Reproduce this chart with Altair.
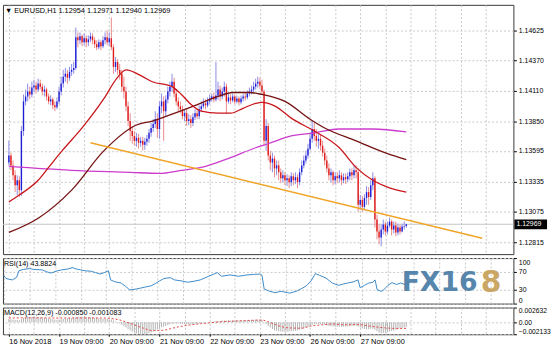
import altair as alt
import pandas as pd

# ---------------- data (prices in points, 1 point = 0.00001) ----------------
first_open = 113497
close_pts = [
    113556, 113472, 113388, 113303, 113345, 113261, 113766, 114019, 114061, 114103,
    114078, 114137, 114154, 114120, 114171, 114145, 114103, 114120, 114061, 114019,
    114036, 113985, 113968, 114019, 114103, 114171, 114230, 114255, 114221, 114272,
    114288, 114305, 114566, 114541, 114575, 114524, 114558, 114524, 114549, 114575,
    114541, 114507, 114482, 114524, 114491, 114541, 114566, 114524, 114558, 114482,
    114314, 114356, 114288, 114255, 114145, 114103, 113977, 113851, 113766, 113724,
    113682, 113708, 113665, 113682, 113648, 113674, 113699, 113750, 113792, 113825,
    113867, 113783, 113977, 114019, 113935, 114036, 114103, 114145, 114187, 114086,
    114019, 113977, 113952, 113893, 113918, 113851, 113867, 113834, 113884, 113918,
    113893, 113952, 113977, 114002, 113985, 114019, 114044, 114061, 114036, 114070,
    114120, 114061, 114103, 114145, 114019, 114053, 114027, 114061, 114019, 114044,
    114011, 114044, 114061, 114053, 114086, 114103, 114120, 114145, 114171, 114187,
    114154, 114103, 113682, 113808, 113556, 113497, 113531, 113446, 113472, 113413,
    113362, 113388, 113345, 113362, 113329, 113379, 113345, 113371, 113329, 113413,
    113472, 113514, 113556, 113615, 113699, 113783, 113724, 113682, 113699, 113640,
    113581, 113514, 113446, 113388, 113413, 113345, 113379, 113362, 113388, 113345,
    113371, 113354, 113379, 113413, 113388, 113430, 113413, 113135, 113177, 113118,
    113194, 113244, 113202, 113303, 113362, 113009, 112907, 112857, 112924, 112967,
    112907, 112958, 112992, 112924, 112958, 112899, 112941, 112907, 112950, 112954,
    112969,
]
high_pts = [
    113682, 113581, 113514, 113430, 113388, 113379, 113808, 114078, 114120, 114171,
    114145, 114187, 114204, 114187, 114213, 114204, 114171, 114154, 114137, 114086,
    114070, 114053, 114019, 114053, 114145, 114230, 114288, 114305, 114288, 114314,
    114339, 114356, 114650, 114608, 114608, 114592, 114600, 114583, 114583, 114608,
    114600, 114566, 114541, 114549, 114541, 114575, 114608, 114625, 114608, 114735,
    114507, 114398, 114381, 114339, 114288, 114230, 114145, 114019, 113918, 113808,
    113766, 113750, 113741, 113716, 113716, 113708, 113733, 113783, 113834, 113867,
    113935, 113918, 114019, 114086, 114061, 114070, 114145, 114187, 114255, 114221,
    114120, 114053, 114019, 113985, 113952, 113952, 113910, 113901, 113918, 113952,
    113952, 113985, 114019, 114044, 114036, 114053, 114078, 114086, 114095, 114356,
    114187, 114154, 114137, 114187, 114171, 114086, 114078, 114086, 114078, 114070,
    114061, 114070, 114086, 114095, 114112, 114137, 114154, 114187, 114213, 114230,
    114221, 114204, 114120, 113867, 113834, 113598, 113581, 113556, 113514, 113514,
    113446, 113430, 113413, 113396, 113388, 113413, 113404, 113413, 113396, 113446,
    113514, 113556, 113598, 113657, 113741, 113851, 113834, 113783, 113741, 113733,
    113682, 113615, 113556, 113489, 113446, 113430, 113413, 113413, 113430, 113413,
    113404, 113404, 113413, 113446, 113446, 113472, 113472, 113446, 113219, 113211,
    113226, 113295, 113286, 113345, 113413, 113379, 113051, 112967, 112967, 113009,
    112992, 112992, 113025, 113009, 112992, 112992, 112975, 112967, 112975, 112992,
    112971,
]
low_pts = [
    113472, 113430, 113345, 113244, 113219, 113202, 113211, 113724, 113985, 114019,
    114036, 114053, 114103, 114086, 114103, 114120, 114070, 114061, 114027, 113994,
    113985, 113952, 113935, 113952, 113994, 114070, 114137, 114187, 114171, 114196,
    114238, 114255, 114288, 114482, 114507, 114491, 114499, 114482, 114491, 114524,
    114507, 114474, 114457, 114465, 114457, 114474, 114507, 114499, 114491, 114457,
    114255, 114272, 114246, 114204, 114103, 114044, 113935, 113808, 113682, 113657,
    113640, 113632, 113615, 113632, 113598, 113606, 113640, 113665, 113716, 113758,
    113792, 113708, 113699, 113918, 113682, 113893, 114002, 114061, 114103, 114053,
    113985, 113935, 113918, 113867, 113851, 113808, 113817, 113792, 113808, 113859,
    113867, 113867, 113926, 113960, 113952, 113968, 113994, 114019, 114011, 114019,
    114036, 114019, 114036, 114061, 113910, 114002, 113994, 114011, 113994, 114002,
    113985, 113994, 114019, 114027, 114036, 114061, 114078, 114095, 114120, 114137,
    114128, 114078, 113640, 113598, 113514, 113430, 113413, 113371, 113388, 113345,
    113320, 113329, 113303, 113295, 113278, 113295, 113303, 113312, 113278, 113303,
    113388, 113446, 113489, 113531, 113598, 113665, 113682, 113632, 113615, 113598,
    113548, 113472, 113413, 113345, 113329, 113303, 113312, 113320, 113329, 113303,
    113320, 113312, 113329, 113345, 113345, 113362, 113362, 113076, 113093, 113076,
    113093, 113135, 113135, 113177, 113261, 112941, 112840, 112798, 112781, 112882,
    112874, 112882, 112941, 112874, 112891, 112865, 112874, 112882, 112899, 112924,
    112940,
]

ma_red_bar = [0, 5, 14, 19, 25.5, 35, 45.5, 51.5, 56, 64, 68.6, 78, 82.5, 87, 92, 100,
              106, 112, 118, 121, 127.5, 135, 146, 158, 166, 174, 181, 190]
ma_red_val = [1.13160, 1.13219, 1.13345, 1.13455, 1.13598, 1.13792, 1.14044, 1.14213,
              1.14288, 1.14230, 1.14187, 1.14145, 1.14078, 1.13994, 1.13935, 1.13918,
              1.13918, 1.13960, 1.14002, 1.14011, 1.13977, 1.13876, 1.13766, 1.13623,
              1.13455, 1.13345, 1.13286, 1.13244]
ma_dark_bar = [0, 14.4, 30, 45.5, 61, 68.6, 78, 90.4, 100, 107, 115, 121, 132, 144, 151,
               166, 181, 190]
ma_dark_val = [1.12899, 1.13025, 1.13261, 1.13598, 1.13817, 1.13851, 1.13910, 1.13994,
               1.14061, 1.14095, 1.14095, 1.14078, 1.14019, 1.13867, 1.13792, 1.13682,
               1.13573, 1.13522]
ma_mag_bar = [0, 30, 58, 72, 82.5, 92, 106, 118, 124, 135, 146, 158, 174, 190]
ma_mag_val = [1.13463, 1.13430, 1.13413, 1.13404, 1.13430, 1.13455, 1.13539, 1.13623,
              1.13657, 1.13724, 1.13750, 1.13783, 1.13783, 1.13758]
trend_bar = [39, 226.3]
trend_val = [1.13665, 1.12849]
last_price = 1.12969

rsi_bar = [0, 1, 4, 6, 7, 9, 12, 14, 18, 20, 22, 25, 27, 30, 32, 34, 36, 38, 41, 43,
           45, 47, 49, 50, 52, 55, 57, 59, 62, 64, 66, 69, 71, 73, 75, 78, 80, 83, 86, 89,
           92, 94, 96, 100, 102, 106, 110, 114, 117, 120, 121, 122, 124, 127, 130, 134, 137, 140,
           142, 144, 146, 148, 151, 154, 157, 159, 161, 164, 166, 167, 169, 171, 173, 174,
           175, 177, 178, 180, 182, 184, 186, 188, 190]
rsi_val = [61, 55, 52, 58, 72, 75, 77, 75, 74, 70, 67, 72, 74, 76, 79, 76, 74, 72, 71, 68,
           65, 68, 72, 52, 48, 45, 38, 30, 32, 34, 36, 39, 44, 50, 55, 57, 52, 50, 47, 49,
           52, 56, 60, 68, 60, 63, 60, 63, 64, 65, 62, 32, 28, 24, 27, 23, 27, 34,
           40, 50, 66, 62, 56, 45, 40, 43, 45, 48, 52, 35, 40, 45, 47, 52,
           30, 27, 30, 40, 46, 42, 45, 42, 43.88]

# MACD main (histogram) in millionths
macd_e6 = [
    600, 550, 500, 450, 400, 350, 550, 800, 900, 950,
    950, 950, 950, 900, 900, 850, 800, 750, 700, 650,
    600, 550, 500, 450, 500, 550, 600, 650, 700, 750,
    750, 800, 950, 1000, 1000, 1000, 950, 950, 900, 900,
    850, 800, 750, 700, 650, 650, 600, 600, 550, 500,
    300, 150, 0, -200, -450, -700, -950, -1200, -1450, -1650,
    -1800, -1950, -2050, -2100, -2133, -2100, -2050, -1950, -1800, -1650,
    -1450, -1300, -1100, -900, -800, -650, -500, -350, -250, -200,
    -200, -200, -250, -300, -300, -350, -350, -350, -300, -300,
    -250, -200, -150, -100, -50, 0, 50, 100, 150, 200,
    250, 250, 300, 300, 300, 300, 300, 300, 300, 300,
    300, 300, 300, 300, 350, 350, 400, 400, 450, 450,
    450, 400, 0, -300, -650, -950, -1200, -1400, -1500, -1600,
    -1650, -1700, -1700, -1700, -1650, -1600, -1550, -1500, -1450, -1350,
    -1250, -1100, -950, -800, -600, -450, -350, -300, -300, -350,
    -400, -450, -550, -650, -700, -750, -800, -800, -800, -800,
    -800, -750, -750, -700, -650, -600, -600, -800, -950, -1100,
    -1200, -1250, -1250, -1200, -1150, -1350, -1600, -1800, -1900, -1900,
    -1850, -1750, -1650, -1550, -1450, -1350, -1250, -1100, -1000, -950,
    -850,
]
sig_bar = [0, 12, 24, 36, 45, 52, 58, 64, 69, 74, 80, 86, 92, 100, 110, 121, 124, 128,
           134, 140, 144, 150, 155, 160, 167, 172, 180, 186, 190]
sig_e6 = [770, 800, 760, 780, 760, 500, -200, -1000, -1500, -1400, -900, -500, -250, 50,
          250, 400, 100, -500, -1000, -1050, -700, -450, -300, -450, -400, -650, -1000,
          -1100, -1083]

price_ticks = [1.12815, 1.13075, 1.13335, 1.13595, 1.13850, 1.14110, 1.14370, 1.14625]
tick_bars = [0, 24, 48, 72, 96, 120, 144, 168]
tick_text = ["16 Nov 2018", "19 Nov 09:00", "20 Nov 09:00", "21 Nov 09:00",
             "22 Nov 09:00", "23 Nov 09:00", "26 Nov 09:00", "27 Nov 09:00"]

# ---------------- frames ----------------
n = len(close_pts)
opens = [first_open] + close_pts[:-1]
df = pd.DataFrame({
    "i": list(range(n)),
    "o": [v / 1e5 for v in opens],
    "h": [v / 1e5 for v in high_pts],
    "l": [v / 1e5 for v in low_pts],
    "c": [v / 1e5 for v in close_pts],
})
df["up"] = [1 if c >= o else 0 for o, c in zip(df.o, df.c)]

trend_df = pd.DataFrame({"b": trend_bar, "p": trend_val})
rsi_df = pd.DataFrame({"b": rsi_bar, "v": rsi_val})
macd_df = pd.DataFrame({"i": list(range(n)), "m": [v / 1e6 for v in macd_e6]})
sig_df = pd.DataFrame({"b": sig_bar, "s": [v / 1e6 for v in sig_e6]})

# ---------------- scales / axes ----------------
FONT = "Liberation Sans"
W = 516
xscale = alt.Scale(domain=[-0.45, 238.85], nice=False, zero=False)
grid_vals = list(range(0, 239, 12))
x_grid = alt.Axis(values=grid_vals, grid=True, labels=False, ticks=False, domain=False, title=None)

label_expr = "".join(f"datum.value == {b} ? '{t}' : " for b, t in zip(tick_bars, tick_text)) + "''"
tick_test = "indexof(" + str(tick_bars) + ", datum.value) >= 0"
x_bottom = alt.Axis(values=grid_vals, grid=True, domain=False, title=None,
                    labelExpr=label_expr, labelAlign="left", labelBaseline="top",
                    labelOverlap=False, labelBound=False, labelFlush=False,
                    labelPadding=1, tickSize=2, labelFontSize=7.5,
                    tickColor={"condition": {"test": tick_test, "value": "#000000"},
                               "value": "transparent"})

pscale = alt.Scale(domain=[1.12714, 1.14844], nice=False, zero=False)
p_axis = alt.Axis(orient="right", values=price_ticks, format=".5f", grid=True, title=None,
                  tickSize=3, labelPadding=2, labelOverlap=False)


def X(field, axis=x_grid):
    return alt.X(field, type="quantitative", scale=xscale, axis=axis)


def P(field):
    return alt.Y(field, type="quantitative", scale=pscale, axis=p_axis)


def candles(flag, wick_color, body_color):
    b = alt.Chart(df).transform_filter(f"datum.up == {flag}")
    w = b.mark_rule(strokeWidth=1, color=wick_color).encode(x=X("i"), y=P("l"), y2="h")
    bd = b.mark_bar(width=1.4, color=body_color).encode(x=X("i"), y=P("o"), y2="c")
    return [w, bd]


def ma_line(bars, vals, color):
    return alt.Chart(pd.DataFrame({"b": bars, "p": vals})).mark_line(
        strokeWidth=1.3, interpolate="monotone", color=color).encode(x=X("b"), y=P("p"))


up_layers = candles(1, "#8c8ce8", "#1f1fd6")
dn_layers = candles(0, "#ea8c8c", "#e01b1b")

red_ma = ma_line(ma_red_bar, ma_red_val, "#c8161c")
dark_ma = ma_line(ma_dark_bar, ma_dark_val, "#741212")
mag_ma = ma_line(ma_mag_bar, ma_mag_val, "#cc3ccc")
trend = alt.Chart(trend_df).mark_line(strokeWidth=1.5, color="#f0a428").encode(x=X("b"), y=P("p"))
last_rule = alt.Chart(pd.DataFrame({"p": [last_price]})).mark_rule(
    color="#c4c4c4", strokeWidth=1).encode(y=P("p"))
box = alt.Chart(pd.DataFrame({"p": [last_price]})).mark_point(
    shape="M-1,-0.3L1,-0.3L1,0.3L-1,0.3Z", size=1089, filled=True, opacity=1,
    color="#000000", clip=False).encode(x=alt.value(533.5), y=P("p"))
box_txt = alt.Chart(pd.DataFrame({"p": [last_price], "t": ["1.12969"]})).mark_text(
    align="left", baseline="middle", color="white", font=FONT, fontSize=7, clip=False).encode(
    x=alt.value(519), y=P("p"), text="t:N")
title_txt = alt.Chart(pd.DataFrame({"t": ["\u25bc EURUSD,H1  1.12954 1.12971 1.12940 1.12969"]})).mark_text(
    align="left", baseline="middle", font=FONT, fontSize=7.4, color="#000000").encode(
    x=alt.value(2), y=alt.value(6.5), text="t:N")

main = alt.layer(last_rule, *up_layers, *dn_layers, mag_ma, dark_ma, red_ma, trend,
                 box, box_txt, title_txt).properties(width=W, height=252)

# RSI panel
rsi_axis = alt.Axis(orient="right", values=[0, 30, 70, 100], grid=True, title=None,
                    tickSize=3, labelPadding=2, labelFlush=True, labelOverlap=False)
rsi_line = alt.Chart(rsi_df).mark_line(color="#3d8bc9", strokeWidth=1).encode(
    x=X("b"), y=alt.Y("v:Q", scale=alt.Scale(domain=[0, 100], nice=False), axis=rsi_axis))
rsi_lab = alt.Chart(pd.DataFrame({"t": ["RSI(14) 43.8824"]})).mark_text(
    align="left", baseline="middle", font=FONT, fontSize=7.2, color="#000000").encode(
    x=alt.value(1), y=alt.value(6.5), text="t:N")
wm1 = alt.Chart(pd.DataFrame({"t": ["FX16"]})).mark_text(
    align="left", baseline="middle", font="DejaVu Sans", fontSize=27, fontWeight="bold",
    color="#4f80a8", opacity=0.95).encode(x=alt.value(403), y=alt.value(25), text="t:N")
wm2 = alt.Chart(pd.DataFrame({"t": ["8"]})).mark_text(
    align="left", baseline="middle", font="DejaVu Sans", fontSize=30, fontWeight="bold",
    color="#c9a35e", opacity=0.95).encode(x=alt.value(483), y=alt.value(25), text="t:N")
rsi = alt.layer(rsi_line, wm1, wm2, rsi_lab).properties(width=W, height=46)

# MACD panel
mscale = alt.Scale(domain=[-0.002133, 0.002632], nice=False, zero=False)
m_axis = alt.Axis(orient="right", values=[-0.002133, 0, 0.002632], grid=True, title=None,
                  tickSize=3, labelPadding=2, labelFlush=True, labelOverlap=False,
                  labelExpr="datum.value == 0 ? '0.00' : format(datum.value, '.6f')",
                  labelFontSize=6.8)
hist = alt.Chart(macd_df).mark_bar(width=1, color="#b4b4b4").encode(
    x=X("i", x_bottom), y=alt.Y("m:Q", scale=mscale, axis=m_axis), y2=alt.datum(0))
sig = alt.Chart(sig_df).mark_line(color="#e04848", strokeWidth=1, strokeDash=[2, 2],
                                  interpolate="monotone").encode(
    x=X("b", x_bottom), y=alt.Y("s:Q", scale=mscale, axis=m_axis))
m_lab = alt.Chart(pd.DataFrame({"t": ["MACD(12,26,9) -0.000850 -0.001083"]})).mark_text(
    align="left", baseline="middle", font=FONT, fontSize=7.2, color="#000000").encode(
    x=alt.value(1), y=alt.value(5.5), text="t:N")
macd = alt.layer(hist, sig, m_lab).properties(width=W, height=27)

chart = alt.vconcat(main, rsi, macd, spacing=2).properties(
    padding={"left": 1, "top": 2, "right": 0, "bottom": 0},
    background="white",
).configure_view(stroke="#3a3a3a", strokeWidth=1).configure_axis(
    labelFont=FONT, labelFontSize=7, labelColor="#000000", gridColor="#c8c8c8",
    gridDash=[2, 2], gridWidth=1, domain=False, tickColor="#000000", tickWidth=1)

chart.save("out.html", embed_options={"renderer": "svg", "actions": False})
